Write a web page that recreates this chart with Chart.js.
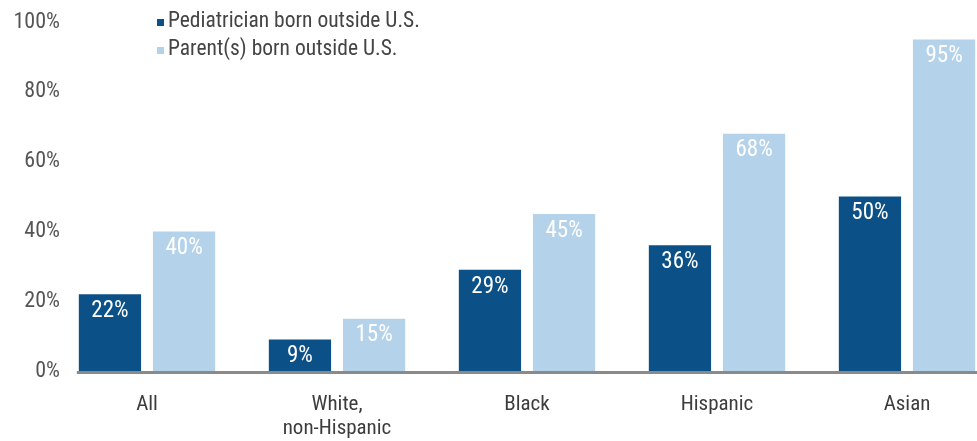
<!DOCTYPE html>
<html>
<head>
<meta charset="utf-8">
<script src="https://cdn.jsdelivr.net/npm/chart.js@4"></script>
<style>
html,body{margin:0;padding:0;overflow:hidden;background:#fff;width:977px;height:441px;}
#wrap{position:absolute;left:0;top:0;width:1010px;height:441px;}
</style>
</head>
<body>
<div id="wrap"><canvas id="c" width="1010" height="441"></canvas></div>
<script>
const categories = [["All"], ["White,", "non-Hispanic"], ["Black"], ["Hispanic"], ["Asian"]];
const pediatricianValues = [22, 9, 29, 36, 50];
const parentValues = [40, 15, 45, 68, 95];
const seriesLabels = ["Pediatrician born outside U.S.", "Parent(s) born outside U.S."];
const yTicks = [0, 20, 40, 60, 80, 100];

const FONT = '"Liberation Sans Narrow", "Roboto Condensed", "DejaVu Sans Condensed", sans-serif';
const DARK = '#0b5086';
const LIGHT = '#b4d2ea';

const valueLabels = {
  id: 'valueLabels',
  afterDatasetsDraw(chart) {
    const ctx = chart.ctx;
    ctx.save();
    ctx.font = '23px ' + FONT;
    ctx.fillStyle = '#ffffff';
    ctx.textAlign = 'center';
    ctx.textBaseline = 'middle';
    chart.data.datasets.forEach((ds, i) => {
      chart.getDatasetMeta(i).data.forEach((bar, j) => {
        ctx.fillText(ds.data[j] + '%', bar.x, bar.y + 17);
      });
    });
    ctx.restore();
  }
};

const axisLine = {
  id: 'axisLine',
  afterDatasetsDraw(chart) {
    const ctx = chart.ctx;
    const y = chart.scales.y.getPixelForValue(0);
    const first = chart.getDatasetMeta(0).data[0];
    const x0 = first.x - first.width / 2 - 2;
    ctx.save();
    ctx.strokeStyle = '#8a8a8a';
    ctx.lineWidth = 3;
    ctx.beginPath();
    ctx.moveTo(x0, y + 1.5);
    ctx.lineTo(chart.width, y + 1.5);
    ctx.stroke();
    ctx.restore();
  }
};

const yLabels = {
  id: 'yLabels',
  afterDraw(chart) {
    const ctx = chart.ctx;
    const s = chart.scales.y;
    ctx.save();
    ctx.font = '22px ' + FONT;
    ctx.fillStyle = '#555555';
    ctx.textAlign = 'right';
    ctx.textBaseline = 'middle';
    yTicks.forEach(v => ctx.fillText(v + '%', 60, s.getPixelForValue(v)));
    ctx.restore();
  }
};

const legendPlugin = {
  id: 'customLegend',
  afterDraw(chart) {
    const ctx = chart.ctx;
    ctx.save();
    ctx.font = '21.5px ' + FONT;
    ctx.textBaseline = 'middle';
    ctx.textAlign = 'left';
    chart.data.datasets.forEach((ds, i) => {
      const y = 22 + i * 28;
      ctx.fillStyle = ds.backgroundColor;
      ctx.fillRect(157, y - 3, 7, 7);
      ctx.fillStyle = '#444444';
      ctx.fillText(ds.label, 168, y);
    });
    ctx.restore();
  }
};

new Chart(document.getElementById('c'), {
  type: 'bar',
  data: {
    labels: categories,
    datasets: [
      { label: seriesLabels[0], data: pediatricianValues, backgroundColor: DARK, barPercentage: 0.84, categoryPercentage: 0.78 },
      { label: seriesLabels[1], data: parentValues, backgroundColor: LIGHT, barPercentage: 0.84, categoryPercentage: 0.78 }
    ]
  },
  options: {
    responsive: false,
    animation: false,
    layout: { padding: { top: 22, right: 8, bottom: 0, left: 0 } },
    plugins: { legend: { display: false }, tooltip: { enabled: false } },
    scales: {
      x: {
        afterFit(scale) { scale.height = 70; },
        grid: { display: false, drawTicks: false },
        border: { display: false },
        ticks: { color: '#3c3c3c', font: { family: FONT, size: 21, lineHeight: 1.15 }, padding: 22, maxRotation: 0, autoSkip: false }
      },
      y: {
        min: 0, max: 100,
        afterFit(scale) { scale.width = 52; },
        afterBuildTicks(scale) { scale.ticks = yTicks.map(v => ({ value: v })); },
        grid: { display: false, drawTicks: false },
        border: { display: false },
        ticks: { display: false }
      }
    }
  },
  plugins: [valueLabels, axisLine, yLabels, legendPlugin]
});
</script>
</body>
</html>
